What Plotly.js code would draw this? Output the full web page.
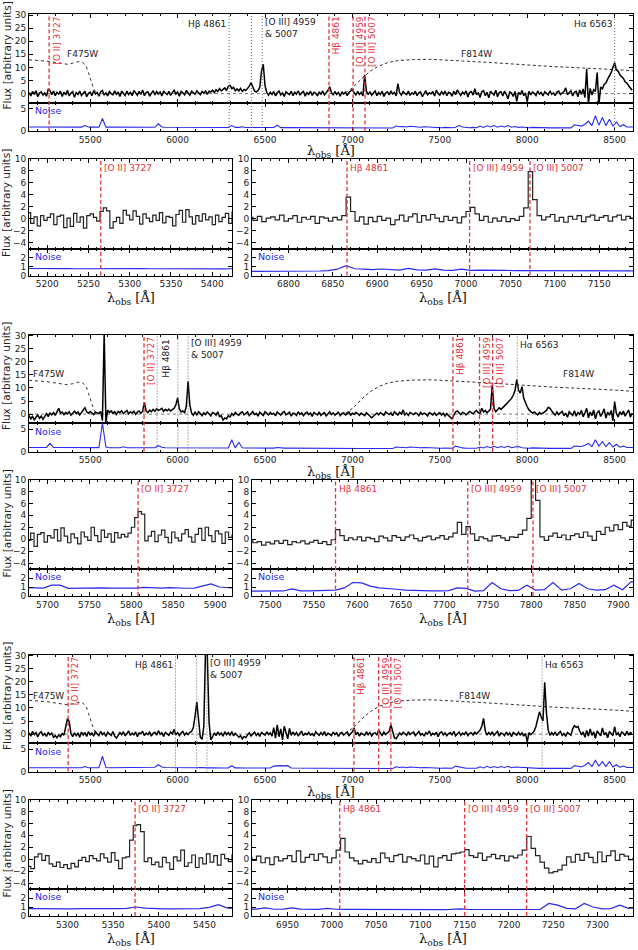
<!DOCTYPE html>
<html><head><meta charset="utf-8">
<script src="https://cdn.plot.ly/plotly-3.0.1.min.js"></script>
<style>html,body{margin:0;padding:0;background:#fff}#chart{width:638px;height:950px}</style>
</head><body><div id="chart"></div>
<script>
// ---------------- DATA ----------------
// Full-range spectra: flux on a 10 A grid starting at 5150 A
const FLUX_GRID_START = 5150, FLUX_GRID_STEP = 10;
// Noise on a 20 A grid starting at 5150 A
const NOISE_GRID_START = 5150, NOISE_GRID_STEP = 20;

const G1_FLUX = [
0.4,-0.9,0.8,-0.3,1.1,-1.2,0.2,0.7,-0.6,0.3,-1.0,1.6,1.2,-0.4,1.0,-0.8,0.5,-0.2,0.9,-1.1,
0.6,-0.5,1.3,-0.9,0.2,0.8,-1.4,0.4,-0.3,1.0,-0.7,0.3,0.9,-1.2,0.1,0.6,-0.8,1.1,-0.2,0.4,
-1.0,0.7,1.2,-0.6,0.3,-0.9,0.8,0.0,-0.5,1.1,-0.3,0.6,-1.1,0.9,0.2,-0.7,1.0,-0.4,0.5,-0.8,
1.2,0.1,-0.6,0.9,-0.3,1.4,-0.8,0.4,0.7,-1.0,0.3,1.1,-0.5,0.8,-0.2,0.6,-0.9,1.0,0.2,-0.4,
0.9,-0.7,0.4,1.3,-0.2,0.6,-1.0,0.8,0.3,-0.5,1.2,0.1,-0.6,0.9,0.4,-0.3,1.1,0.5,-0.4,0.8,
0.2,1.0,-0.3,0.9,0.6,1.3,0.4,1.5,0.8,1.9,1.0,1.6,2.2,1.2,2.8,3.2,1.9,2.4,1.1,1.8,
1.0,2.0,0.8,1.6,1.2,2.0,2.8,4.2,2.6,1.0,0.6,1.2,2.4,8.5,11.2,3.0,0.4,-0.6,0.5,-0.3,
0.8,-0.9,0.3,1.0,-0.5,0.2,-1.1,0.7,0.1,-0.4,0.9,-0.8,0.5,-0.2,1.1,-0.6,0.3,0.8,-1.0,0.4,
-0.3,0.9,-0.7,0.5,0.1,-0.9,0.6,-0.2,1.0,-0.5,0.3,1.2,2.6,0.4,-0.6,0.8,-0.3,0.5,-1.0,0.7,
-0.2,0.6,-0.8,0.4,1.0,1.5,0.3,-0.5,0.8,-0.3,0.5,-0.9,7.2,1.0,-0.4,0.7,-0.6,0.3,1.0,-0.8,
0.4,-0.3,0.9,-1.1,0.2,0.7,-0.5,1.0,-0.2,0.5,-0.9,3.8,0.3,-0.6,0.8,0.1,-0.4,1.0,-0.7,0.3,
-0.2,0.9,-0.8,0.4,0.6,-1.2,0.2,1.1,-0.5,0.3,-0.1,0.8,-0.9,1.3,0.0,-0.6,0.7,-0.3,1.0,-0.8,
0.5,0.2,-1.0,0.9,-0.4,1.4,0.3,-0.7,0.6,-0.2,1.0,-1.3,0.4,0.8,-0.6,1.9,-0.4,0.3,-1.5,0.7,
1.1,-0.8,0.5,-1.6,0.9,0.2,-0.6,1.3,-1.2,0.4,0.7,-0.9,1.0,-0.3,-2.0,0.6,0.2,-1.1,0.8,-3.0,
0.5,-0.4,1.2,-0.8,0.3,-3.2,0.9,-0.5,0.6,0.1,-0.7,1.0,-0.2,0.4,-0.9,0.7,0.2,-0.5,1.1,-0.3,
0.3,-0.8,0.6,1.0,-0.4,0.2,0.8,2.2,-0.5,0.4,1.1,-0.9,0.6,0.9,-1.2,1.4,-0.3,1.8,-1.5,9.5,
-4.0,2.0,-0.5,1.5,0.8,8.0,-4.2,2.5,1.8,3.5,4.0,5.5,6.5,8.0,10.0,11.8,9.0,8.6,7.2,6.5,
5.8,4.5,4.0,3.0,2.0,1.3];
const G1_NOISE = [
0.9,0.9,0.88,0.9,0.9,0.87,0.9,0.88,0.9,0.9,0.88,0.87,0.88,0.9,0.88,0.87,1.2,0.88,0.87,0.86,
0.86,2.8,0.87,0.86,0.85,0.86,0.85,0.85,0.86,0.85,0.84,0.85,0.84,0.85,0.84,0.84,0.83,1.6,0.9,0.84,
0.83,0.83,0.82,0.83,0.82,0.82,0.81,0.82,0.81,0.8,0.8,0.8,0.79,0.8,0.79,0.78,0.79,0.78,1.2,0.8,
0.8,0.95,0.78,0.77,0.78,0.8,0.85,0.9,0.78,0.76,0.77,1.3,0.76,0.75,0.75,0.74,0.75,0.74,0.74,0.73,
0.73,0.72,0.73,0.72,0.71,0.72,0.71,0.7,0.71,0.7,0.7,0.69,0.7,0.69,0.69,0.68,0.68,0.69,0.68,0.67,
0.67,0.68,0.67,0.67,0.68,1.1,0.95,1.0,0.9,1.05,0.95,1.0,0.85,0.95,0.9,0.8,0.78,0.75,0.72,0.8,
0.75,0.72,0.85,1.2,0.9,0.75,0.72,0.8,0.72,1.1,0.8,1.15,0.9,1.2,0.85,1.1,0.9,1.2,0.85,1.0,
0.8,0.9,0.75,0.72,0.8,0.75,0.7,0.72,0.7,0.7,0.72,0.7,0.7,0.72,0.7,0.7,1.4,1.3,1.1,1.5,
2.2,1.2,3.4,1.3,3.0,1.2,2.6,1.1,2.0,1.0,1.4,0.9,0.9,0.9];

const G2_FLUX = [
-0.5,-1.8,-0.9,-2.2,-1.2,-0.3,-1.6,-0.8,-2.0,-0.6,0.2,-1.0,0.4,-0.3,0.6,-0.5,1.0,2.2,0.3,0.8,
-0.2,0.7,0.1,0.9,-0.4,0.6,1.1,0.2,0.8,-0.3,0.5,1.2,2.4,0.9,0.3,1.0,0.5,-0.2,0.7,0.4,
0.2,1.0,-2.5,31.0,-3.0,1.5,0.6,1.2,0.3,0.9,-0.2,1.0,0.5,1.3,0.2,0.8,1.4,0.1,0.9,0.4,
1.1,-0.1,0.8,1.2,0.3,1.0,4.6,1.2,0.6,1.5,0.9,1.8,1.1,2.0,1.4,1.7,2.2,1.0,1.8,1.3,
1.9,1.2,1.6,2.2,3.5,6.2,2.0,0.8,1.2,0.6,3.0,12.5,3.5,0.4,-0.5,0.7,-0.3,0.9,0.2,-0.6,
0.5,-0.2,0.8,0.1,-0.7,0.6,0.3,-0.4,0.9,-1.0,-0.6,-2.3,-1.5,-1.8,-0.6,-1.1,0.2,-0.5,0.6,0.0,
-0.4,0.5,0.9,-0.3,0.2,0.8,-0.6,0.4,1.0,-0.2,0.3,-0.8,0.7,0.1,-0.5,0.9,0.4,-0.3,0.6,-0.1,
0.3,-0.7,0.8,0.2,-0.4,0.6,1.0,-0.3,0.1,0.7,-0.8,0.4,0.2,-0.5,0.9,-0.1,0.5,-0.6,0.3,0.8,
-0.2,0.4,-0.9,0.6,0.1,-0.3,0.8,-0.5,0.2,0.6,-0.7,0.3,0.9,-0.2,0.5,-0.4,0.1,0.7,-0.6,0.3,
0.5,-0.3,0.2,0.8,-0.4,0.3,-0.1,0.6,0.2,-0.5,0.4,0.0,-0.6,0.5,-0.2,-1.0,-1.4,-0.8,-0.2,0.4,
-0.3,0.6,0.1,-0.5,0.8,0.2,-0.2,0.5,-0.6,0.9,0.3,-0.4,0.7,0.0,1.6,-0.3,0.4,-0.5,0.6,0.1,
-0.2,0.5,0.2,-0.6,0.7,-0.1,0.4,0.0,-0.7,0.6,0.2,-0.3,0.5,-0.5,0.1,0.6,-0.4,0.3,-0.8,0.2,
-0.6,-1.2,-1.8,-0.4,0.8,1.2,0.3,-0.2,0.7,0.4,-0.3,0.5,1.0,0.6,0.1,0.9,1.4,0.5,0.3,2.2,
0.8,1.4,0.5,1.2,2.0,11.2,2.2,0.9,1.6,2.4,1.8,2.6,3.0,3.8,4.5,5.2,6.0,7.2,9.0,13.2,
9.2,8.0,10.5,6.0,4.0,2.8,1.6,1.0,0.4,0.8,0.2,-0.3,0.6,0.1,0.4,0.9,1.4,2.6,2.2,1.2,
0.3,-0.4,0.8,-0.2,0.5,1.0,-0.6,0.4,-1.2,0.9,0.2,-0.5,1.3,-0.8,0.6,-0.1,1.5,-1.0,0.4,2.2,
-1.4,0.8,-0.6,1.6,-1.8,0.5,1.2,-0.9,0.3,2.0,-1.5,0.7,-0.4,1.4,-2.5,4.8,0.2,-1.1,0.9,-0.3,
1.2,-0.8,0.5,1.6,-1.2,0.4];
const G2_NOISE = [
0.9,0.9,0.88,0.9,0.88,0.9,1.8,0.9,0.88,0.87,0.88,0.87,0.9,0.87,0.87,0.86,0.95,0.86,0.86,0.85,
0.86,6.3,1.0,0.85,0.85,0.85,0.84,1.05,0.85,0.84,0.85,0.84,0.84,0.85,0.84,0.84,0.85,1.3,0.95,0.85,
0.84,0.83,0.84,0.83,0.82,0.82,0.83,0.82,0.81,0.82,0.81,0.8,0.8,0.8,0.79,0.8,0.79,0.78,2.6,0.8,
2.0,0.85,0.78,0.77,0.78,0.77,0.77,0.76,0.76,0.77,0.76,0.9,0.76,0.75,0.75,0.74,0.75,0.74,0.74,0.73,
0.73,0.72,0.73,0.72,0.71,0.72,0.71,0.7,0.71,0.7,0.7,0.69,0.7,0.69,0.69,0.68,0.68,0.69,0.68,0.67,
0.67,0.68,0.67,0.67,0.68,1.0,0.9,0.95,0.85,1.0,0.9,0.95,0.82,0.9,0.85,0.78,0.76,0.74,0.72,0.78,
0.74,0.72,1.2,0.95,0.8,0.74,0.72,0.8,0.72,1.0,0.8,1.1,0.85,1.15,0.85,1.1,0.9,1.2,0.85,1.0,
1.1,0.85,0.75,0.72,0.8,0.75,0.7,0.72,0.7,0.7,0.72,0.7,0.7,0.72,0.7,0.7,1.2,1.1,1.1,1.4,
1.8,1.1,2.6,1.2,2.2,1.1,2.0,1.0,1.6,0.95,1.2,0.9,0.9,0.9];

const G3_FLUX = [
0.5,-0.8,1.0,-0.2,0.6,-1.1,0.3,0.9,-0.5,0.2,-0.9,0.7,-0.3,0.4,-1.2,-0.6,-1.4,-0.3,-1.0,0.2,
-0.4,2.2,5.9,4.8,0.2,-1.0,0.5,-0.6,0.3,-1.2,0.8,-0.4,0.6,-0.9,1.0,-0.3,0.4,-0.8,0.9,0.1,
-0.6,1.1,-0.2,0.5,-0.9,0.7,0.2,-0.5,1.0,-0.8,-1.5,-0.4,0.6,-0.2,0.9,-0.7,0.3,1.2,-0.5,0.4,
-0.3,0.8,-1.0,0.5,0.1,1.1,-0.6,0.4,-0.2,0.9,-0.8,0.3,0.7,-0.4,1.3,-0.1,0.5,-0.9,0.6,0.2,
-0.5,0.8,0.1,1.8,-0.3,0.6,-0.6,0.4,1.0,-0.4,0.5,-0.2,0.7,1.0,2.5,7.0,12.2,5.5,-1.2,-2.0,
3.0,33.0,30.0,4.5,-2.2,-1.0,0.5,-0.6,0.8,-0.3,0.4,-0.8,0.9,-0.2,0.6,-0.5,1.0,-0.7,0.3,-0.4,
-1.2,-0.6,-1.8,-0.9,-1.4,-0.3,0.5,-0.7,0.2,0.8,-0.5,0.3,-0.9,0.6,0.1,-0.4,0.9,-0.2,0.5,-0.8,
2.5,-1.5,3.5,-1.0,2.0,-2.2,3.0,0.5,-1.8,2.2,-0.5,0.8,-0.3,0.6,-0.8,0.4,1.0,-0.6,0.3,-0.2,
0.7,-0.4,0.2,-0.8,0.9,0.1,-0.5,0.6,-0.3,1.0,-0.7,0.4,0.0,-0.6,0.8,-0.2,0.5,-0.9,0.3,0.6,
-0.4,0.2,0.8,-0.6,0.3,0.9,2.4,-0.3,0.7,-0.8,0.4,0.1,-0.5,0.9,-0.2,0.6,-0.7,0.3,0.5,-0.4,
1.6,0.4,-0.5,0.8,-0.2,0.5,1.0,3.6,0.5,-1.4,-1.8,-0.6,0.4,-0.3,0.7,0.2,-0.5,0.9,-0.2,0.4,
0.8,-0.6,0.3,1.0,-0.4,0.2,-0.8,0.6,0.1,1.2,-0.5,0.3,-0.2,0.7,-1.0,0.4,0.9,-0.3,0.5,-0.6,
0.2,0.6,-0.4,1.1,-0.7,0.3,0.8,-0.5,0.4,-0.2,0.9,-0.6,0.2,0.5,-0.3,0.7,0.1,0.8,1.5,3.0,
6.0,1.2,-0.4,0.6,-0.2,0.9,-0.5,0.3,1.0,-0.8,0.4,0.1,-0.6,0.8,-0.3,0.5,-1.0,0.6,0.2,-0.4,
0.7,-0.3,0.5,-0.8,0.3,-3.0,0.6,-0.2,0.4,1.2,3.0,5.5,8.5,6.5,5.0,19.8,8.0,1.5,-0.5,0.6,
-0.3,0.8,-0.6,0.4,1.0,-0.5,0.2,-0.9,0.6,0.1,-0.4,2.0,3.2,2.6,3.0,1.2,-0.3,0.8,-1.2,1.4,
-0.8,2.0,-0.5,0.9,-1.6,1.2,0.3,-0.7,2.4,-0.3,0.6,-1.4,1.0,0.2,-0.6,2.8,-0.4,0.5,-1.0,0.8,
0.3,-0.6,1.1,-0.4,0.6,0.2];
const G3_NOISE = [
0.85,0.85,0.84,0.85,0.84,0.85,0.84,0.84,0.85,0.84,0.84,0.83,0.84,0.84,0.83,0.84,1.1,0.84,0.83,0.83,
0.83,3.4,0.9,0.84,0.85,0.9,0.95,1.0,0.98,0.97,0.96,0.95,0.96,0.95,0.94,0.94,0.95,1.5,1.0,0.9,
0.88,0.87,0.86,0.85,0.84,0.84,0.83,0.83,0.85,0.9,0.82,0.8,0.85,0.8,0.79,0.8,0.79,0.78,1.3,0.8,
0.85,0.78,0.78,0.77,0.78,0.77,0.77,0.76,0.76,0.77,1.2,1.3,1.3,1.25,1.3,0.78,0.75,0.74,0.74,0.73,
0.73,0.72,0.73,0.72,0.71,0.72,0.71,0.7,0.71,0.7,0.7,0.69,0.7,0.69,0.69,0.68,0.68,0.69,0.68,0.67,
0.67,0.68,0.67,0.67,0.68,1.05,0.9,1.0,0.85,1.0,0.9,0.95,0.82,0.9,0.85,0.78,0.76,0.74,0.72,0.78,
0.75,0.72,1.2,1.0,0.82,0.74,0.72,0.8,0.72,1.05,0.8,1.15,0.85,1.1,0.85,1.1,0.9,1.15,0.85,1.0,
0.95,0.85,0.75,0.72,0.8,0.75,0.7,0.72,0.7,0.7,0.72,0.7,0.7,0.72,0.7,0.7,1.3,1.1,1.0,1.4,
2.0,1.1,2.5,1.2,2.2,1.1,2.2,1.0,1.5,0.95,1.2,0.9,0.9,0.9];

// Filter throughput curves (arbitrary scaling, as drawn)
const F475W_WAVE = [5150,5200,5250,5300,5340,5370,5400,5430,5455,5475,5490,5505,5520,5535];
const F475W_CURVE = [12.9,12.7,12.4,11.9,11.4,11.2,11.6,12.2,12.0,10.8,8.0,4.5,1.8,0.3];
const F814W_WAVE = [6960,7000,7050,7100,7150,7200,7260,7350,7450,7550,7650,7750,7850,7950,8050,8150,8250,8350,8450,8550,8610];
const F814W_CURVE = [0.3,2.2,5.5,8.5,10.5,11.8,12.6,13.0,13.1,12.8,12.4,12.0,11.6,11.1,10.7,10.3,10.0,9.7,9.3,9.0,8.6];

// Zoom panels (binned, step plots)
const G1_ZL_START = 5176, G1_ZL_BIN = 4;
const G1_ZL_FLUX = [1.0,-0.8,0.3,-1.2,0.5,-0.3,0.2,0.8,-1.0,0.4,0.6,-1.5,0.1,-1.3,0.9,-0.6,0.3,-1.6,0.5,0.8,
0.2,-0.4,1.2,1.8,1.3,-1.6,-0.5,0.2,-0.8,1.4,0.6,-0.2,1.3,0.4,-0.9,0.8,0.1,-0.5,0.6,-0.3,
1.0,-0.7,0.4,0.2,-1.2,0.7,1.4,-0.6,1.5,0.3,-0.9,0.5,-0.4,0.8,-0.2,0.3,-1.0,0.6,-0.5,0.2,0.9,-0.8,1.2];
const G1_ZL_NOISE_START = 5175;
const G1_ZL_NOISE = [0.78,0.76,0.75,0.76,0.77,0.76,0.75,0.76,0.78,0.77,0.76,0.75,0.74,0.75,0.76,0.75,0.74,0.76,0.78,0.75,0.74,0.75,0.76,0.75,0.74,0.75];
const G1_ZR_START = 6755, G1_ZR_BIN = 5;
const G1_ZR_FLUX = [0.2,-0.3,0.4,-0.5,0.1,0.3,-0.2,0.6,-0.4,0.0,0.5,-0.6,0.2,-0.1,0.4,-0.8,0.3,0.1,-0.4,0.2,
-0.2,0.5,3.6,1.2,-0.4,0.3,-0.9,0.2,-0.5,0.4,-0.3,0.1,-1.0,-0.2,0.6,-0.4,0.3,0.8,-0.6,0.5,
-0.2,0.7,0.1,-0.5,0.4,-0.3,0.2,-0.7,0.3,1.2,1.9,0.8,-0.3,0.4,-0.6,0.1,-0.4,0.3,-0.5,0.0,
-0.3,0.4,1.8,7.9,3.2,0.5,-0.2,0.3,0.7,-0.4,0.2,-0.6,0.4,-0.1,0.5,-0.5,0.3,0.6,-0.3,0.2,
0.5,-0.4,0.3,0.6,-0.2,0.4,0.1,0.3];
const G1_ZR_NOISE_START = 6755;
const G1_ZR_NOISE = [0.45,0.45,0.44,0.45,0.46,0.45,0.44,0.47,0.5,0.55,0.7,1.1,0.75,0.7,0.65,0.72,0.62,0.6,0.78,0.62,
0.6,0.74,0.6,0.58,0.7,0.58,0.6,0.56,0.57,0.56,0.55,0.55,0.6,0.56,0.55,0.54,0.55,0.54,0.53,0.54,0.53,0.52,0.53,0.52,0.52];

const G2_ZL_START = 5676, G2_ZL_BIN = 4;
const G2_ZL_FLUX = [-0.2,1.0,-1.2,0.8,1.1,-0.5,0.6,0.2,1.6,-0.3,1.9,0.5,-0.6,0.9,0.2,-0.8,1.2,0.4,-0.2,2.0,
0.6,-0.4,1.5,0.3,0.9,-0.5,1.1,0.2,0.8,0.4,1.0,2.0,3.6,4.6,4.2,-0.3,0.5,1.3,-0.4,0.7,
1.5,0.3,-0.6,1.2,0.2,-0.3,0.9,1.6,0.4,-0.5,0.8,1.8,-0.2,2.0,0.6,-0.4,1.4,0.9,-0.7,1.2,0.3,0.8];
const G2_ZL_NOISE_START = 5675;
const G2_ZL_NOISE = [0.95,0.9,0.88,1.2,1.2,0.85,0.88,0.87,0.86,0.9,0.88,0.86,0.9,0.87,0.95,0.9,0.88,0.92,0.87,0.86,0.88,1.1,1.35,1.0,0.9,0.85];
const G2_ZR_START = 7475, G2_ZR_BIN = 5;
const G2_ZR_FLUX = [-0.3,-0.6,-0.4,-1.0,-0.5,-0.8,-0.3,-0.7,-0.2,-0.9,-0.4,-0.6,-0.3,-0.8,-0.5,-0.2,-0.7,-0.4,-0.9,-0.1,
1.6,0.6,-0.2,0.2,-0.1,0.4,-0.3,0.3,0.1,-0.4,0.5,0.2,-0.3,0.6,0.3,-0.2,0.4,0.7,0.1,-0.3,
0.3,0.5,-0.1,0.2,0.6,0.0,0.4,1.0,2.8,0.8,2.1,0.9,-0.2,0.4,0.1,-0.3,0.5,0.6,0.2,-0.2,
0.4,0.3,0.8,1.5,3.5,10.0,6.5,0.4,-0.2,0.5,1.0,0.3,0.7,-0.1,0.6,0.9,0.3,1.2,0.5,-0.2,
1.3,0.8,2.0,1.4,2.4,1.6,2.8,2.2,3.2,5.0];
const G2_ZR_NOISE_START = 7475;
const G2_ZR_NOISE = [0.55,0.55,0.56,0.55,0.56,0.8,0.58,0.56,0.6,0.62,0.65,0.9,1.5,1.45,1.1,0.9,0.85,0.75,0.65,0.6,
0.58,0.57,0.56,0.6,0.9,0.85,0.55,0.6,1.5,0.8,0.6,0.62,1.2,0.65,0.7,1.5,0.65,0.8,1.4,0.8,0.65,0.7,1.2,0.7,1.6,1.3];

const G3_ZL_START = 5256, G3_ZL_BIN = 4;
const G3_ZL_FLUX = [-1.2,-1.6,0.4,0.9,-0.2,0.6,-0.8,-1.2,-0.5,-1.4,-0.9,-1.6,-0.7,-1.3,-0.2,0.3,-0.4,0.6,0.1,-0.3,
0.9,0.2,-0.5,1.1,-0.2,-1.6,0.2,0.4,3.2,5.6,5.8,4.6,-0.4,0.2,-0.9,-0.5,-1.3,0.3,-0.6,-1.7,
0.4,-0.3,1.5,-1.2,-0.6,0.7,-1.4,0.2,-0.8,0.9,-0.5,0.6,-1.0,0.8,0.1,-0.4,0.7,0.3];
const G3_ZL_NOISE_START = 5255;
const G3_ZL_NOISE = [0.82,0.8,0.78,0.79,0.8,0.8,0.81,0.8,0.82,0.8,0.82,0.85,1.0,0.88,0.82,0.8,0.8,0.81,0.8,0.82,0.95,1.25,0.88,0.85];
const G3_ZR_START = 6905, G3_ZR_BIN = 5;
const G3_ZR_FLUX = [0.3,-0.2,0.5,-0.6,0.2,-0.9,0.4,-0.3,0.1,0.6,-0.4,1.4,-0.5,0.3,0.8,-0.2,0.9,0.4,-0.6,0.2,
1.5,3.5,1.2,0.2,-0.3,-0.8,-0.2,-0.5,0.1,-0.6,1.0,0.2,-0.4,0.6,0.8,-0.5,0.4,0.1,-0.3,0.7,
-0.8,0.5,-1.3,0.2,0.6,-0.2,0.9,1.0,1.2,1.6,0.6,0.3,1.0,-0.2,0.4,0.8,0.1,0.6,-0.3,0.5,
0.2,0.7,1.5,3.8,1.8,0.6,-0.5,-1.5,-2.3,-2.1,-1.8,-1.0,0.4,-0.5,0.8,-0.2,1.0,0.3,-0.6,1.2,
-0.4,0.6,1.4,-0.2,0.8,0.5,-0.1,0.3];
const G3_ZR_NOISE_START = 6905;
const G3_ZR_NOISE = [0.78,0.76,0.9,0.75,0.76,0.9,0.76,0.75,0.74,0.85,0.75,0.74,0.73,0.74,0.73,0.72,0.73,0.72,0.72,0.71,
0.72,0.7,0.71,0.74,0.8,0.72,0.71,0.7,0.7,0.71,0.7,0.7,0.72,0.72,1.4,1.2,0.85,0.8,1.4,1.0,0.8,0.82,1.2,0.85,0.95];
const ZOOM_NOISE_STEP = 10;

// Emission line positions (observed wavelength, A)
const RED_LINE_LABELS = ['[O II] 3727','Hβ 4861','[O III] 4959','[O III] 5007'];
const G1_RED_LINES = [5265, 6866, 7004, 7072];
const G2_RED_LINES = [5808, 7575, 7727, 7802];
const G3_RED_LINES = [5374, 7009, 7150, 7220];
const G1_BLACK_LINES = [6295, 6422, 6484, 8500];
const G2_BLACK_LINES = [5883, 6002, 6060, 7943];
const G3_BLACK_LINES = [5988, 6109, 6168, 8085];

// Axis ranges
const FULL_RANGE = [5150, 8605];
const G1_ZL_RANGE = [5178, 5424], G1_ZR_RANGE = [6759, 7188];
const G2_ZL_RANGE = [5678, 5920], G2_ZR_RANGE = [7479, 7917];
const G3_ZL_RANGE = [5258, 5480], G3_ZR_RANGE = [6910, 7340];

// ---------------- BUILD ----------------
const W = 638, H = 950;
const RED = '#e2343c', BLUE = '#2828f0', FONT = 'DejaVu Sans', SERIF = 'DejaVu Serif';
const OFFSETS = [0, 320.5, 640.5];
const GEO = {bigTop:14, bigMid:102.5, bigBot:131, zTop:159, zMid:248.5, zBot:275.5};
const RED_DASH = '4px,2.5px';
function P(px){ return 1 - px/H; }
function XD(a,b){ return [a/W, b/W]; }
function grid(start, step, n){ const a=[]; for(let i=0;i<n;i++) a.push(start+i*step); return a; }

const GROUPS = [
 {flux:G1_FLUX, noise:G1_NOISE, red:G1_RED_LINES, black:G1_BLACK_LINES,
  zl:{range:G1_ZL_RANGE, start:G1_ZL_START, bin:G1_ZL_BIN, flux:G1_ZL_FLUX, nstart:G1_ZL_NOISE_START, noise:G1_ZL_NOISE},
  zr:{range:G1_ZR_RANGE, start:G1_ZR_START, bin:G1_ZR_BIN, flux:G1_ZR_FLUX, nstart:G1_ZR_NOISE_START, noise:G1_ZR_NOISE},
  f475:[5456,15.3], f814:[7707,15.3],
  blabels:[{t:'Hβ 4861', i:0, side:'right', y:23.5},{t:'[O III] 4959<br>& 5007', i:2, side:'left', y:28},{t:'Hα 6563', i:3, side:'right', y:23.5}]},
 {flux:G2_FLUX, noise:G2_NOISE, red:G2_RED_LINES, black:G2_BLACK_LINES,
  zl:{range:G2_ZL_RANGE, start:G2_ZL_START, bin:G2_ZL_BIN, flux:G2_ZL_FLUX, nstart:G2_ZL_NOISE_START, noise:G2_ZL_NOISE},
  zr:{range:G2_ZR_RANGE, start:G2_ZR_START, bin:G2_ZR_BIN, flux:G2_ZR_FLUX, nstart:G2_ZR_NOISE_START, noise:G2_ZR_NOISE},
  f475:[5264,15.4], f814:[8296,15.4],
  blabels:[{t:'Hβ 4861', i:0, side:'rot', y:17},{t:'[O III] 4959<br>& 5007', i:2, side:'left', y:28.5},{t:'Hα 6563', i:3, side:'left', y:24}]},
 {flux:G3_FLUX, noise:G3_NOISE, red:G3_RED_LINES, black:G3_BLACK_LINES,
  zl:{range:G3_ZL_RANGE, start:G3_ZL_START, bin:G3_ZL_BIN, flux:G3_ZL_FLUX, nstart:G3_ZL_NOISE_START, noise:G3_ZL_NOISE},
  zr:{range:G3_ZR_RANGE, start:G3_ZR_START, bin:G3_ZR_BIN, flux:G3_ZR_FLUX, nstart:G3_ZR_NOISE_START, noise:G3_ZR_NOISE},
  f475:[5264,14.6], f814:[7696,14.6],
  blabels:[{t:'Hβ 4861', i:0, side:'right', y:24},{t:'[O III] 4959<br>& 5007', i:2, side:'left', y:28.5},{t:'Hα 6563', i:3, side:'left', y:24}]}
];

const data = [], shapes = [], annotations = [];
const layout = {width:W, height:H, margin:{l:0,r:0,t:0,b:0}, showlegend:false,
  paper_bgcolor:'#fff', plot_bgcolor:'#fff', font:{family:FONT, color:'#222'}};

function baseAxis(extra){
  return Object.assign({showline:true, linecolor:'#000', linewidth:1, mirror:'ticks', ticks:'inside',
    ticklen:4, tickwidth:1, tickcolor:'#000', showgrid:false, zeroline:false, fixedrange:true,
    tickfont:{family:FONT, size:9, color:'#222'}}, extra);
}
const txt = (size,color,family) => ({family:family||FONT, size:size, color:color||'#222'});

GROUPS.forEach((g, gi) => {
  const off = OFFSETS[gi];
  const id = k => gi*6 + k;
  const sfx = k => (id(k) === 1 ? '' : String(id(k)));
  const xr = k => 'x' + sfx(k), yr = k => 'y' + sfx(k);
  const xn = k => 'xaxis' + sfx(k), yn = k => 'yaxis' + sfx(k);

  // --- axes ---
  layout[xn(1)] = baseAxis({domain:XD(29,633), anchor:yr(1), range:FULL_RANGE, dtick:500, tick0:0, showticklabels:false,
    minor:{ticks:'inside', ticklen:2, dtick:100, tickcolor:'#000'}});
  layout[yn(1)] = baseAxis({domain:[P(off+GEO.bigMid), P(off+GEO.bigTop)], anchor:xr(1), range:[-3.4,30.4], dtick:5, tick0:0});
  layout[xn(2)] = baseAxis({domain:XD(29,633), anchor:yr(2), range:FULL_RANGE, dtick:500, tick0:0,
    minor:{ticks:'inside', ticklen:2, dtick:100, tickcolor:'#000'}});
  layout[yn(2)] = baseAxis({domain:[P(off+GEO.bigBot), P(off+GEO.bigMid)], anchor:xr(2), range:[0,6.35], tickvals:[0,5]});
  [['zl',3,29,232],['zr',5,252,633]].forEach(([key,k,xa,xb]) => {
    const z = g[key];
    layout[xn(k)] = baseAxis({domain:XD(xa,xb), anchor:yr(k), range:z.range, dtick:50, tick0:0, showticklabels:false,
      minor:{ticks:'inside', ticklen:2, dtick:10, tickcolor:'#000'}});
    layout[yn(k)] = baseAxis({domain:[P(off+GEO.zMid), P(off+GEO.zTop)], anchor:xr(k), range:[-5,10], dtick:2, tick0:0});
    layout[xn(k+1)] = baseAxis({domain:XD(xa,xb), anchor:yr(k+1), range:z.range, dtick:50, tick0:0,
      minor:{ticks:'inside', ticklen:2, dtick:10, tickcolor:'#000'}});
    layout[yn(k+1)] = baseAxis({domain:[P(off+GEO.zBot), P(off+GEO.zMid)], anchor:xr(k+1), range:[0,3], tickvals:[0,1,2]});

    // zoom traces
    data.push({type:'scatter', mode:'lines', xaxis:xr(k), yaxis:yr(k),
      x:grid(z.start, z.bin, z.flux.length), y:z.flux, line:{color:'#222', width:1.2, shape:'hv'}, hoverinfo:'skip'});
    data.push({type:'scatter', mode:'lines', xaxis:xr(k+1), yaxis:yr(k+1),
      x:grid(z.nstart, ZOOM_NOISE_STEP, z.noise.length), y:z.noise, line:{color:BLUE, width:1.2}, hoverinfo:'skip'});
    // zoom red lines + labels
    const idx = key === 'zl' ? [0] : [1,2,3];
    idx.forEach(i => {
      shapes.push({type:'line', xref:xr(k), yref:'paper', x0:g.red[i], x1:g.red[i],
        y0:P(off+GEO.zBot), y1:P(off+GEO.zTop), line:{color:RED, width:1.3, dash:RED_DASH}});
      annotations.push({xref:xr(k), yref:'paper', x:g.red[i], y:P(off+GEO.zTop+9), xanchor:'left', yanchor:'middle',
        xshift:1, text:RED_LINE_LABELS[i], showarrow:false, font:txt(9,RED)});
    });
    annotations.push({xref:'paper', yref:'paper', x:(xa+4)/W, y:P(off+GEO.zMid+7.5), xanchor:'left', yanchor:'middle',
      text:'Noise', showarrow:false, font:txt(9.5,BLUE)});
    annotations.push({xref:'paper', yref:'paper', x:(xa+xb)/2/W, y:P(off+298.5), xanchor:'center', yanchor:'middle',
      text:'λ<sub>obs</sub> [Å]', showarrow:false, font:txt(13,'#111',SERIF)});
  });

  // --- big panel traces ---
  data.push({type:'scatter', mode:'lines', xaxis:xr(1), yaxis:yr(1), x:F475W_WAVE, y:F475W_CURVE,
    line:{color:'#333', width:1, dash:'dot'}, hoverinfo:'skip'});
  data.push({type:'scatter', mode:'lines', xaxis:xr(1), yaxis:yr(1), x:F814W_WAVE, y:F814W_CURVE,
    line:{color:'#333', width:1, dash:'3px,2.5px'}, hoverinfo:'skip'});
  data.push({type:'scatter', mode:'lines', xaxis:xr(1), yaxis:yr(1),
    x:grid(FLUX_GRID_START, FLUX_GRID_STEP, g.flux.length), y:g.flux, line:{color:'#000', width:1.5}, hoverinfo:'skip'});
  data.push({type:'scatter', mode:'lines', xaxis:xr(2), yaxis:yr(2),
    x:grid(NOISE_GRID_START, NOISE_GRID_STEP, g.noise.length), y:g.noise, line:{color:BLUE, width:1.1}, hoverinfo:'skip'});

  // zero line
  shapes.push({type:'line', layer:'below', xref:xr(1), yref:yr(1), x0:FULL_RANGE[0], x1:FULL_RANGE[1], y0:0, y1:0,
    line:{color:'#777', width:1, dash:'dot'}});
  // red dashed lines with rotated labels
  g.red.forEach((w,i) => {
    shapes.push({type:'line', xref:xr(1), yref:'paper', x0:w, x1:w, y0:P(off+GEO.bigBot), y1:P(off+GEO.bigTop),
      line:{color:RED, width:1.3, dash:RED_DASH}});
    annotations.push({xref:xr(1), yref:'paper', x:w, y:P(off+GEO.bigTop+0.5), xanchor:'left', yanchor:'top', xshift:0,
      textangle:-90, text:RED_LINE_LABELS[i], showarrow:false, font:txt(9,RED)});
  });
  // black dotted lines
  g.black.forEach(w => {
    shapes.push({type:'line', xref:xr(1), yref:'paper', x0:w, x1:w, y0:P(off+GEO.bigBot), y1:P(off+GEO.bigTop),
      line:{color:'#666', width:1, dash:'1px,2px'}});
  });
  g.blabels.forEach(b => {
    const w = g.black[b.i];
    if (b.side === 'rot') {
      annotations.push({xref:xr(1), yref:'paper', x:w, y:P(off+b.y), xanchor:'left', yanchor:'top', xshift:1,
        textangle:-90, text:b.t, showarrow:false, font:txt(9,'#222')});
    } else {
      annotations.push({xref:xr(1), yref:'paper', x:w, y:P(off+b.y), xanchor:b.side==='right'?'right':'left', yanchor:'middle',
        xshift:b.side==='right'?-1:1, text:b.t, showarrow:false, align:'left', font:txt(9,'#222')});
    }
  });
  annotations.push({xref:xr(1), yref:yr(1), x:g.f475[0], y:g.f475[1], xanchor:'center', yanchor:'middle',
    text:'F475W', showarrow:false, font:txt(9,'#222')});
  annotations.push({xref:xr(1), yref:yr(1), x:g.f814[0], y:g.f814[1], xanchor:'center', yanchor:'middle',
    text:'F814W', showarrow:false, font:txt(9,'#222')});
  annotations.push({xref:'paper', yref:'paper', x:33/W, y:P(off+GEO.bigMid+8), xanchor:'left', yanchor:'middle',
    text:'Noise', showarrow:false, font:txt(9.5,BLUE)});
  annotations.push({xref:'paper', yref:'paper', x:331/W, y:P(off+151.5), xanchor:'center', yanchor:'middle',
    text:'λ<sub>obs</sub> [Å]', showarrow:false, font:txt(13,'#111',SERIF)});
  // y titles
  annotations.push({xref:'paper', yref:'paper', x:6.5/W, y:P(off+56), xanchor:'center', yanchor:'middle', textangle:-90,
    text:'Flux [arbitrary units]', showarrow:false, font:txt(10.5,'#222')});
  annotations.push({xref:'paper', yref:'paper', x:6.5/W, y:P(off+203.5), xanchor:'center', yanchor:'middle', textangle:-90,
    text:'Flux [arbitrary units]', showarrow:false, font:txt(10.5,'#222')});
});

layout.shapes = shapes;
layout.annotations = annotations;
Plotly.newPlot('chart', data, layout, {displayModeBar:false, staticPlot:true});
</script></body></html>
